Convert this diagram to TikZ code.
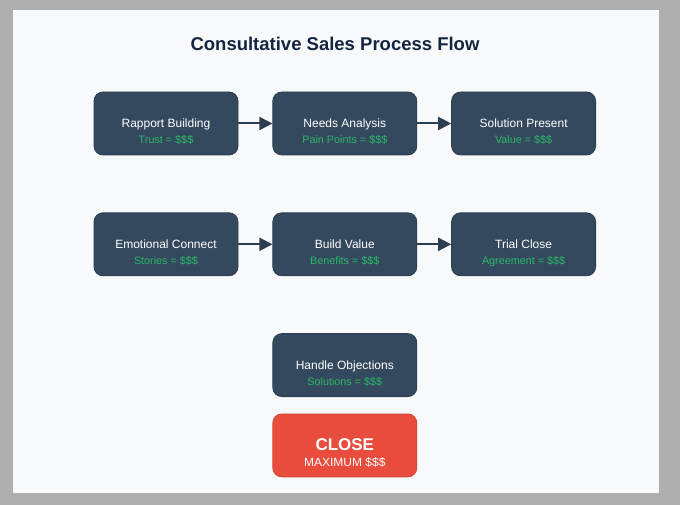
\documentclass[tikz,border=0pt]{standalone}
\usepackage{fontspec}
\setmainfont{Liberation Sans}
\usepackage{xcolor}
\usepackage{tikz}
\usetikzlibrary{arrows.meta, positioning}
\definecolor{slate}{HTML}{34495E}
\definecolor{slateedge}{HTML}{2C3E50}
\definecolor{moneygreen}{HTML}{2BB866}
\definecolor{closered}{HTML}{E74C3C}
\definecolor{closeedge}{HTML}{D94432}
\definecolor{navy}{HTML}{14233F}
\definecolor{panelbg}{HTML}{F8F9FB}
\definecolor{framegray}{HTML}{AFAFAF}

\begin{document}
\begin{tikzpicture}[x=1pt, y=1pt,
    stage/.style={rectangle, rounded corners=9pt, draw=slateedge, fill=slate, line width=0.8pt,
                  minimum width=144pt, minimum height=63pt, text=white,
                  font=\fontsize{12}{14}\selectfont, text height=11pt, text depth=2pt},
    value/.style={font=\fontsize{10.8}{12}\selectfont, text=moneygreen,
                  text height=8pt, text depth=0pt, yshift=-16.5pt},
    flow/.style={-{Triangle[length=13pt,width=13pt]}, line width=2pt, slateedge}
]
% frame and panel
\fill[framegray] (0,0) rectangle (680,-505);
\fill[panelbg] (13,-10) rectangle (659,-493);

\node[font=\bfseries\fontsize{18.5}{22}\selectfont, text=navy] (title) at (335,-44) {Consultative Sales Process Flow};

% first row
\node[stage, label={[value]center:Trust = \$\$\$}] (rapport) at (166,-123.5) {Rapport Building};
\node[stage, right=34pt of rapport, label={[value]center:Pain Points = \$\$\$}] (needs) {Needs Analysis};
\node[stage, right=34pt of needs, label={[value]center:Value = \$\$\$}] (solution) {Solution Present};

% second row
\node[stage, below=57pt of rapport, label={[value]center:Stories = \$\$\$}] (emotion) {Emotional Connect};
\node[stage, right=34pt of emotion, label={[value]center:Benefits = \$\$\$}] (buildvalue) {Build Value};
\node[stage, right=34pt of buildvalue, label={[value]center:Agreement = \$\$\$}] (trial) {Trial Close};

% objections and close
\node[stage, below=57pt of buildvalue, label={[value]center:Solutions = \$\$\$}] (objections) {Handle Objections};
\node[stage, below=16.5pt of objections, fill=closered, draw=closeedge,
      font=\bfseries\fontsize{17}{20}\selectfont, text height=14pt, text depth=3pt,
      label={[value, text=white, font=\fontsize{12}{14}\selectfont, text height=9pt]center:MAXIMUM \$\$\$}] (close) {CLOSE};

\draw[flow] (rapport) -- (needs);
\draw[flow] (needs) -- (solution);
\draw[flow] (emotion) -- (buildvalue);
\draw[flow] (buildvalue) -- (trial);
\end{tikzpicture}
\end{document}
